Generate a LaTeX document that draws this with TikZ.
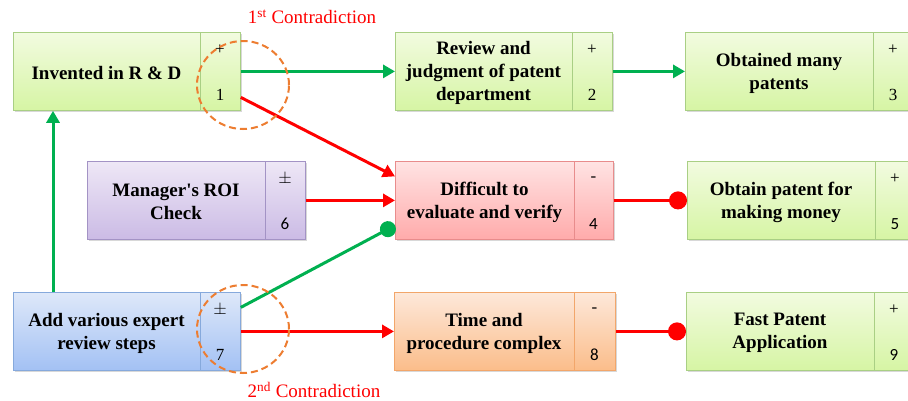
\documentclass[tikz,border=0pt]{standalone}
\usepackage{fontspec}
\setmainfont{Liberation Serif}[Ligatures=TeX]
\newfontfamily\sansnum{Carlito}
\newfontfamily\serifb{Liberation Serif}[BoldFont={* Bold}]
\usetikzlibrary{arrows.meta,shapes.geometric,shadows}
\definecolor{gline}{HTML}{00B050}
\definecolor{rline}{HTML}{FF0000}
\definecolor{ocirc}{HTML}{ED7D31}
\definecolor{gtop}{HTML}{F2FBE0}
\definecolor{gbot}{HTML}{D6F5A4}
\definecolor{gdraw}{HTML}{A9CF84}
\definecolor{ptop}{HTML}{EEE7F6}
\definecolor{pbot}{HTML}{CBBBE5}
\definecolor{pdraw}{HTML}{A393C5}
\definecolor{rtop}{HTML}{FFE3E3}
\definecolor{rbot}{HTML}{FFABAB}
\definecolor{rdraw}{HTML}{E88C8C}
\definecolor{btop}{HTML}{DEE8F9}
\definecolor{bbot}{HTML}{A3C1F4}
\definecolor{bdraw}{HTML}{86A9DC}
\definecolor{otop}{HTML}{FDE8DA}
\definecolor{obot}{HTML}{FBBD8A}
\definecolor{odraw}{HTML}{F2A66A}
\tikzset{
  pb/.style={rectangle, line width=0.8pt, drop shadow={shadow xshift=2pt,shadow yshift=-2pt,opacity=0.3,fill=gray}},
  gbox/.style={pb, draw=gdraw, top color=gtop, bottom color=gbot},
  pbox/.style={pb, draw=pdraw, top color=ptop, bottom color=pbot},
  rbox/.style={pb, draw=rdraw, top color=rtop, bottom color=rbot},
  bbox/.style={pb, draw=bdraw, top color=btop, bottom color=bbot},
  obox/.style={pb, draw=odraw, top color=otop, bottom color=obot},
  gboxline/.style={draw=gdraw, line width=0.8pt},
  pboxline/.style={draw=pdraw, line width=0.8pt},
  rboxline/.style={draw=rdraw, line width=0.8pt},
  bboxline/.style={draw=bdraw, line width=0.8pt},
  oboxline/.style={draw=odraw, line width=0.8pt},
  boxtext/.style={align=center, font=\serifb\bfseries\fontsize{19}{23}\selectfont, inner sep=0pt},
  sidetext/.style={font=\serifb\fontsize{17}{20}\selectfont, inner sep=0pt},
  garrow/.style={draw=gline, line width=3pt, -{Triangle[length=12pt,width=13pt]}},
  rarrow/.style={draw=rline, line width=3pt, -{Triangle[length=12pt,width=13pt]}},
  rdot/.style={draw=rline, line width=3pt, -{Circle[length=18pt,fill=rline]}},
  gdot/.style={draw=gline, line width=3pt, -{Circle[length=16pt,fill=gline]}},
  contra/.style={draw=ocirc, dashed, dash pattern=on 7pt off 4pt, line width=2pt, ellipse, minimum width=92, minimum height=88},
  clabel/.style={text=rline, font=\serifb\fontsize{19}{22}\selectfont, inner sep=0pt}
}
% #1 name, #2 style prefix, #3 left, #4 top, #5 divider, #6 right, #7 text, #8 sign, #9 number
\newcommand\pbox[9]{%
  \node[#2box, minimum width={#6-#3}, minimum height=78, anchor=north west] (#1) at (#3,#4) {};
  \draw[#2boxline] (#5,#4) -- (#5,{#4+78});
  \node[boxtext] (#1t) at ({(#3+#5)/2},{#4+41}) {#7};
  \node[sidetext] (#1s) at ({(#5+#6)/2},{#4+18}) {#8};
  \node[sidetext] (#1n) at ({(#5+#6)/2},{#4+63}) {#9};
}
\begin{document}
\begin{tikzpicture}[x=1pt,y=-1pt]
\useasboundingbox (0,0) rectangle (908,400);
\fill[white] (0,0) rectangle (908,400);
% row 1
\pbox{b1}{g}{13}{32}{200}{240}{Invented in R \& D}{+}{1}
\pbox{b2}{g}{395}{32}{572}{612}{Review and\\judgment of patent\\department}{+}{2}
\pbox{b3}{g}{685}{32}{873}{913}{Obtained many\\patents}{+}{3}
% row 2
\pbox{b6}{p}{87}{161}{265}{305}{Manager\textquotesingle s ROI\\Check}{$\pm$}{\sansnum 6}
\pbox{b4}{r}{395}{161}{574}{613}{Difficult to\\evaluate and verify}{-}{\sansnum 4}
\pbox{b5}{g}{687}{161}{875}{915}{Obtain patent for\\making money}{+}{\sansnum 5}
% row 3
\pbox{b7}{b}{13}{292}{200}{240}{Add various expert\\review steps}{$\pm$}{7}
\pbox{b8}{o}{394}{292}{574}{615}{Time and\\procedure complex}{-}{\sansnum 8}
\pbox{b9}{g}{686}{292}{874}{914}{Fast Patent\\Application}{+}{\sansnum 9}
% connectors
\draw[garrow] (b1.east) -- (b2.west);
\draw[garrow] (b2.east) -- (b3.west);
\draw[rarrow] ([yshift=-26pt]b1.east) -- ([yshift=24pt]b4.west);
\draw[rarrow] (b6.east) -- (b4.west);
\draw[gdot] ([yshift=24pt]b7.east) -- ([yshift=-25pt]b4.west);
\draw[rarrow] (b7.east) -- (b8.west);
\draw[garrow] ([xshift=40pt]b7.north west) -- ([xshift=40pt]b1.south west);
\draw[rdot] (b4.east) -- (b5.west);
\draw[rdot] (b8.east) -- (b9.west);
% contradiction circles
\node[contra] (c1) at (243,85) {};
\node[contra] (c2) at (243,329) {};
\node[clabel] (l1) at (312,17) {1\textsuperscript{st} Contradiction};
\node[clabel] (l2) at (314,390) {2\textsuperscript{nd} Contradiction};
\end{tikzpicture}
\end{document}
